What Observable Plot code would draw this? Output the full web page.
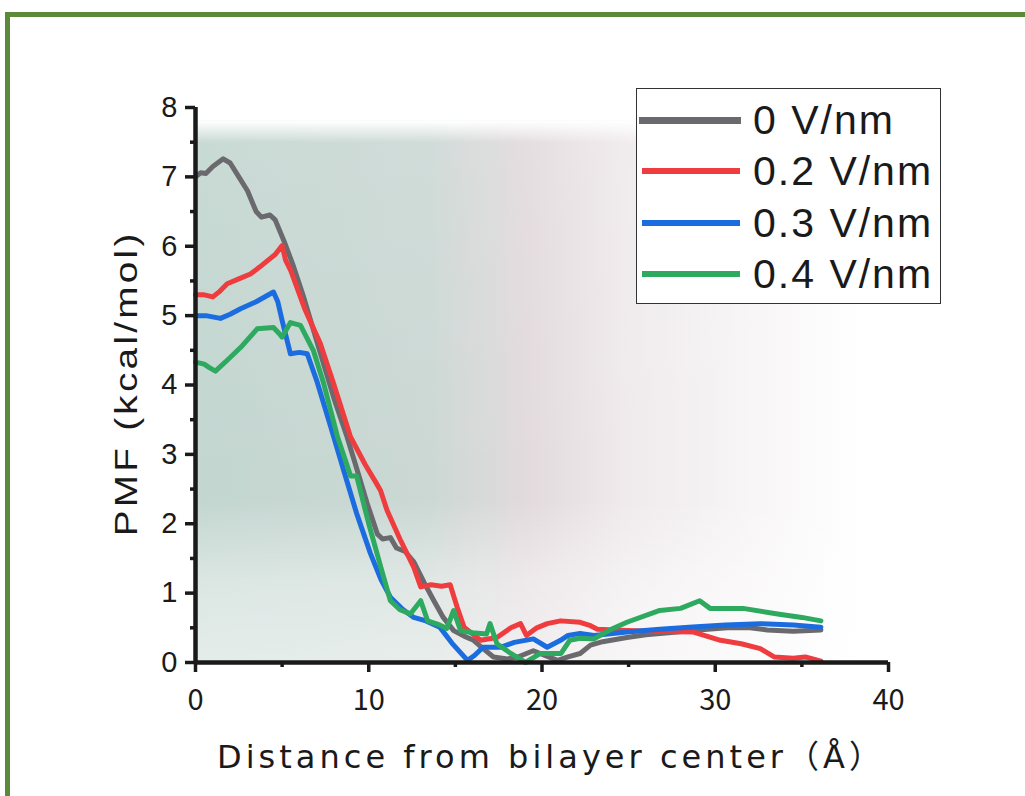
<!DOCTYPE html>
<html>
<head>
<meta charset="utf-8">
<script src="https://cdn.jsdelivr.net/npm/d3@7"></script>
<script src="https://cdn.jsdelivr.net/npm/@observablehq/plot@0.6"></script>
<style>
  html, body { margin: 0; padding: 0; background: #fff; width: 1025px; height: 796px; overflow: hidden; }
  #frame { position: absolute; left: 5px; top: 12px; width: 1100px; height: 900px; border: 5px solid #5b8a3a; box-sizing: border-box; }
  #chart { position: absolute; left: 0; top: 0; }
  #legend { position: absolute; left: 636px; top: 88px; width: 305px; height: 216px; border: 1.5px solid #333; background: #fff; box-sizing: border-box; font-family: "Liberation Sans", Arial, sans-serif; font-size: 41px; letter-spacing: 2px; color: #1a1a1a; }
  .row { position: absolute; left: 0; height: 50px; display: flex; align-items: center; white-space: nowrap; }
  .sw { width: 98px; height: 6px; margin-left: 5px; margin-right: 13px; }
</style>
</head>
<body>
<div id="frame"></div>
<div id="chart"></div>
<div id="legend"></div>
<script>
// ---- data ----
const seriesNames = ["0 V/nm", "0.2 V/nm", "0.3 V/nm", "0.4 V/nm"];
const seriesColors = ["#6a6a6e", "#ef3d3f", "#1b6ddf", "#2ea960"];

const dist0 = [0,0.3,0.6,1.0,1.6,2.0,2.5,3.0,3.5,3.8,4.3,4.6,5.1,5.6,6.2,6.8,7.4,8.0,8.75,9.3,9.9,10.5,10.8,11.25,11.6,12.1,12.6,13.2,13.76,14.3,14.9,15.5,16.05,16.6,17.2,18.0,18.6,19.5,20.2,20.9,21.5,22.2,22.8,23.5,24.9,26,27.8,29,30.7,32,33,34.5,36.1];
const pmf0  = [7.0,7.06,7.05,7.15,7.26,7.2,7.0,6.8,6.5,6.42,6.45,6.38,6.08,5.75,5.3,4.8,4.3,3.8,3.25,2.8,2.3,1.85,1.78,1.8,1.65,1.6,1.45,1.15,0.89,0.65,0.46,0.38,0.32,0.2,0.08,0.05,0.08,0.17,0.1,0.03,0.08,0.13,0.25,0.3,0.36,0.4,0.44,0.47,0.5,0.5,0.47,0.45,0.47];

const dist2 = [0,0.5,1.0,1.4,1.83,2.5,3.17,3.7,4.14,4.6,5.0,5.2,5.5,6.3,7.2,7.97,8.95,9.8,10.4,10.68,11.06,11.8,12.6,13.0,13.6,14.2,14.7,15.1,15.5,16.45,17.4,18.2,18.76,19.1,19.7,20.3,21.07,22.2,22.8,23.2,24.9,26.5,28.7,29.5,30.3,31.5,32.6,33.4,34.5,35.2,36.1];
const pmf2  = [5.3,5.3,5.27,5.35,5.46,5.53,5.6,5.7,5.79,5.88,6.01,5.8,5.65,5.1,4.6,4.02,3.25,2.85,2.6,2.48,2.19,1.78,1.37,1.09,1.12,1.1,1.12,0.8,0.51,0.32,0.36,0.5,0.56,0.39,0.5,0.56,0.6,0.58,0.53,0.48,0.46,0.45,0.44,0.38,0.32,0.27,0.2,0.08,0.06,0.08,0.02];

const dist3 = [0,0.6,1.44,2.0,2.6,3.5,4.5,4.75,5.0,5.48,6.0,6.45,7.0,7.8,8.55,9.3,10.1,10.7,11.25,11.9,12.6,13.3,14.1,14.8,15.7,16.1,16.6,17.6,18.4,19.5,20.3,21.07,21.5,22.2,23,24.9,26.8,28.7,30.6,32.6,34.5,36.1];
const pmf3  = [5.0,5.0,4.96,5.02,5.1,5.2,5.34,5.2,4.93,4.45,4.47,4.45,4.06,3.4,2.77,2.15,1.57,1.2,0.94,0.78,0.65,0.6,0.51,0.28,0.03,0.1,0.22,0.22,0.29,0.34,0.22,0.32,0.39,0.42,0.39,0.44,0.48,0.51,0.54,0.56,0.54,0.51];

const dist4 = [0,0.5,0.8,1.15,1.8,2.6,3.56,4.5,4.8,5.0,5.48,6.06,6.8,7.4,8.2,8.95,9.3,10.0,10.7,11.25,11.8,12.4,13.0,13.4,14.0,14.5,14.9,15.3,16.0,16.8,17.0,17.4,18.2,19.05,19.9,21.1,21.6,22.2,23,24.0,24.9,26.8,28,29.1,29.7,31.6,33.6,35,36.1];
const pmf4  = [4.33,4.3,4.25,4.2,4.35,4.54,4.81,4.83,4.75,4.69,4.9,4.86,4.5,4.02,3.25,2.69,2.69,2.0,1.37,0.89,0.76,0.7,0.89,0.6,0.55,0.49,0.75,0.46,0.43,0.41,0.56,0.27,0.13,0.0,0.13,0.13,0.32,0.35,0.34,0.48,0.58,0.75,0.78,0.89,0.78,0.78,0.7,0.65,0.6];

const xTicks = [0, 10, 20, 30, 40];
const xMinor = [5, 15, 25, 35];
const yTicks = [0, 1, 2, 3, 4, 5, 6, 7, 8];
const yMinor = [0.5, 1.5, 2.5, 3.5, 4.5, 5.5, 6.5, 7.5];
const xTitle = "Distance from bilayer center（Å）";
const yTitle = "PMF (kcal/mol)";

// ---- build table ----
const allX = [dist0, dist2, dist3, dist4];
const allY = [pmf0, pmf2, pmf3, pmf4];
const rows = [];
allX.forEach((xs, i) => xs.forEach((x, j) => rows.push({series: seriesNames[i], x, y: allY[i][j]})));

const plot = Plot.plot({
  width: 1025,
  height: 796,
  marginLeft: 195,
  marginRight: 137,
  marginTop: 107,
  marginBottom: 134,
  style: {background: "transparent", color: "#1a1a1a"},
  x: {domain: [0, 40]},
  y: {domain: [0, 8]},
  color: {domain: seriesNames, range: seriesColors},
  marks: [
    Plot.rect([{x1: 0, x2: 38.2, y1: 0, y2: 7.8}], {x1: "x1", x2: "x2", y1: "y1", y2: "y2", fill: "url(#bggrad)"}),
    Plot.rect([{x1: 0, x2: 38.2, y1: 0, y2: 7.8}], {x1: "x1", x2: "x2", y1: "y1", y2: "y2", fill: "url(#bgfade)"}),
    Plot.line(rows, {x: "x", y: "y", z: "series", stroke: "series", strokeWidth: 5, strokeLinejoin: "round", curve: "linear"}),
    Plot.axisX(xTicks, {tickSize: 10, strokeWidth: 3.5, tickFormat: () => "", label: null}),
    Plot.axisX(xMinor, {tickSize: 5, strokeWidth: 3.5, tickFormat: () => "", label: null}),
    Plot.axisY(yTicks, {tickSize: 10, strokeWidth: 3.5, tickFormat: () => "", label: null}),
    Plot.axisY(yMinor, {tickSize: 5, strokeWidth: 3.5, tickFormat: () => "", label: null}),
    Plot.text(xTicks, {x: d => d, y: 0, dy: 38, text: d => String(d), lineAnchor: "middle", textAnchor: "middle", fontSize: 29, fontFamily: "Noto Sans CJK JP, sans-serif", fill: "#1a1a1a"}),
    Plot.text(yTicks, {x: 0, y: d => d, dx: -18, text: d => String(d), lineAnchor: "middle", textAnchor: "end", fontSize: 29, fontFamily: "Liberation Sans, Arial, sans-serif", fill: "#1a1a1a"}),
    Plot.ruleY([0], {strokeWidth: 4.5, stroke: "#1a1a1a"}),
    Plot.ruleX([0], {strokeWidth: 4.5, stroke: "#1a1a1a"}),
    Plot.text([yTitle], {frameAnchor: "left", textAnchor: "middle", lineAnchor: "middle", rotate: -90, dx: -68, fontSize: 31, fontFamily: "Liberation Sans, Arial, sans-serif", fill: "#1a1a1a", className: "ytitle"}),
    Plot.text([xTitle], {frameAnchor: "bottom", textAnchor: "middle", lineAnchor: "middle", dy: 95, fontSize: 32, fontFamily: "DejaVu Sans, Noto Sans CJK JP, sans-serif", fill: "#1a1a1a", className: "xtitle"})
  ]
});

const svg = d3.select(plot);
const defs = svg.insert("defs", ":first-child");
// horizontal tint of the faint background image
const g = defs.append("linearGradient").attr("id", "bggrad").attr("x1", "0").attr("x2", "1").attr("y1", "0").attr("y2", "0");
[["0%", "#c3d6d0"], ["35%", "#cbd8d4"], ["50%", "#e2dadd"], ["65%", "#efeaec"], ["85%", "#f8f6f6"], ["100%", "#ffffff"]]
  .forEach(([o, c]) => g.append("stop").attr("offset", o).attr("stop-color", c));
// vertical fade (lighter near the top edge and near the bottom)
const f = defs.append("linearGradient").attr("id", "bgfade").attr("x1", "0").attr("x2", "0").attr("y1", "0").attr("y2", "1");
[["0%", "#ffffff", 1], ["4%", "#ffffff", 0.1], ["70%", "#ffffff", 0], ["85%", "#ffffff", 0.4], ["100%", "#ffffff", 0.55]]
  .forEach(([o, c, a]) => f.append("stop").attr("offset", o).attr("stop-color", c).attr("stop-opacity", a));

document.getElementById("chart").appendChild(plot);

// fit titles to the reference widths (the reference glyphs are stretched along the text)
function fitWidth(sel, target, stretch, shift) {
  sel.each(function () {
    const el = d3.select(this);
    if (stretch !== 1) el.attr("transform", (el.attr("transform") || "") + ` scale(${stretch},1)`);
    const goal = target / stretch;
    const n = this.textContent.length;
    let ls = 0;
    for (let k = 0; k < 3; k++) {
      const w = this.getBBox().width;
      ls += (goal - w) / n;
      el.style("letter-spacing", ls + "px").attr("dx", (ls / 2 + shift) + "px");
    }
  });
}
fitWidth(svg.selectAll(".xtitle text"), 668, 1, 7);
fitWidth(svg.selectAll(".ytitle text"), 306, 1.25, 0);

// legend
const legend = document.getElementById("legend");
const centers = [31, 82, 134, 185];
seriesNames.forEach((name, i) => {
  const r = document.createElement("div");
  r.className = "row";
  r.style.top = (centers[i] - 25) + "px";
  const sw = document.createElement("div");
  sw.className = "sw";
  sw.style.background = seriesColors[i];
  if (i === 0) { sw.style.height = "7px"; sw.style.marginLeft = "2px"; sw.style.width = "102px"; sw.style.marginRight = "12px"; }
  const t = document.createElement("span");
  t.textContent = name;
  r.appendChild(sw); r.appendChild(t);
  legend.appendChild(r);
});
</script>
</body>
</html>
